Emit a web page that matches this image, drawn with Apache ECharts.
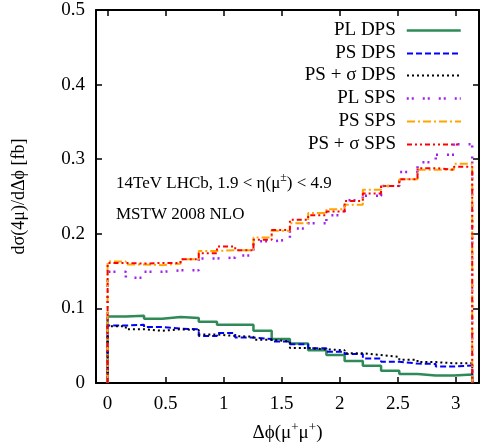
<!DOCTYPE html>
<html>
<head>
<meta charset="utf-8">
<script src="https://cdn.jsdelivr.net/npm/echarts@6/dist/echarts.min.js"></script>
<style>html,body{margin:0;padding:0;background:#fff}#c{width:480px;height:445px}</style>
</head>
<body>
<div id="c"></div>
<script>
// Δϕ bins: 20 bins from 0 to π
var nBins = 20;
var phiMax = Math.PI;
var xTicks = [0, 0.5, 1, 1.5, 2, 2.5, 3];
var yTicks = [0, 0.1, 0.2, 0.3, 0.4, 0.5];

var plDPS      = [0.089,0.090,0.086,0.0885,0.087,0.082,0.078,0.078,0.070,0.059,0.053,0.044,0.0375,0.0295,0.023,0.0165,0.012,0.010,0.010,0.0115];
var psDPS      = [0.077,0.078,0.075,0.073,0.072,0.063,0.067,0.061,0.059,0.0555,0.052,0.0465,0.042,0.039,0.033,0.0285,0.026,0.0255,0.022,0.0235];
var psSigmaDPS = [0.076,0.072,0.070,0.072,0.071,0.065,0.063,0.062,0.058,0.0555,0.047,0.045,0.044,0.040,0.0375,0.035,0.031,0.028,0.0265,0.0265];
var plSPS      = [0.149,0.141,0.149,0.151,0.151,0.167,0.168,0.171,0.190,0.192,0.207,0.214,0.225,0.245,0.251,0.264,0.283,0.296,0.306,0.320];
var psSPS      = [0.163,0.159,0.158,0.160,0.166,0.177,0.178,0.178,0.195,0.204,0.214,0.228,0.233,0.239,0.259,0.264,0.273,0.286,0.286,0.294];
var psSigmaSPS = [0.161,0.160,0.161,0.161,0.166,0.174,0.183,0.178,0.192,0.205,0.219,0.225,0.230,0.244,0.254,0.264,0.273,0.288,0.286,0.290];

var names = ['PL DPS', 'PS DPS', 'PS + σ DPS', 'PL SPS', 'PS SPS', 'PS + σ SPS'];

var FONT = "'Liberation Serif', 'Times New Roman', serif";

function stepPoints(vals) {
  var w = phiMax / nBins;
  var pts = [[0, 0]];
  for (var i = 0; i < vals.length; i++) {
    pts.push([i * w, vals[i]]);
    pts.push([(i + 1) * w, vals[i]]);
  }
  pts.push([phiMax, 0]);
  return pts;
}

var styles = [
  {data: plDPS,      color: '#2e8b57', type: 'solid',            width: 2.5},
  {data: psDPS,      color: '#0000ff', type: [6, 3],             width: 2},
  {data: psSigmaDPS, color: '#000000', type: [2, 3],             width: 2},
  {data: plSPS,      color: '#a020f0', type: [2, 3, 2, 9],       width: 2.5},
  {data: psSPS,      color: '#ffa500', type: [8, 3, 2, 3],       width: 2},
  {data: psSigmaSPS, color: '#ff0000', type: [5, 3, 2, 3, 2, 3], width: 2}
];

var series = styles.map(function (s, i) {
  return {
    name: names[i],
    type: 'line',
    data: stepPoints(s.data),
    showSymbol: false,
    symbol: 'none',
    color: s.color,
    lineStyle: {color: s.color, type: s.type, width: s.width},
    z: 2 + i
  };
});

var rowTops = [21, 44, 66, 89, 112, 135];
var legends = names.map(function (n, i) {
  return {
    data: [n],
    right: 18,
    top: rowTops[i],
    orient: 'horizontal',
    align: 'right',
    itemWidth: 54,
    itemHeight: 14,
    itemGap: 0,
    padding: 0,
    selectedMode: false,
    itemStyle: {opacity: 0},
    lineStyle: {type: 'inherit', width: 'inherit', color: 'inherit'},
    textStyle: {fontFamily: FONT, fontSize: 19, color: '#000', padding: [0, 6, 0, 0]}
  };
});

var axisCommonX = {
  type: 'value',
  min: -0.1,
  max: 3.2,
  splitLine: {show: false},
  axisLine: {show: true, onZero: false, lineStyle: {color: '#000', width: 2}}
};
var axisCommonY = {
  type: 'value',
  min: 0,
  max: 0.5,
  interval: 0.1,
  splitLine: {show: false},
  axisLine: {show: true, onZero: false, lineStyle: {color: '#000', width: 2}}
};

var option = {
  animation: false,
  backgroundColor: '#fff',
  grid: {left: 96, right: 1, top: 10, bottom: 62, containLabel: false, outerBoundsMode: 'none'},
  legend: legends,
  xAxis: [
    Object.assign({}, axisCommonX, {
      position: 'bottom',
      axisTick: {show: true, inside: true, length: 6, customValues: xTicks, lineStyle: {color: '#000', width: 1.5}},
      axisLabel: {show: true, customValues: xTicks, margin: 12, fontFamily: FONT, fontSize: 19, color: '#000',
        formatter: function (v) { return String(v); }},
      name: '{a|Δϕ(μ}{s|+}{a|μ}{s|+}{a|)}',
      nameLocation: 'middle',
      nameGap: 38,
      nameTextStyle: {
        rich: {
          a: {fontFamily: FONT, fontSize: 19, color: '#000', lineHeight: 22, verticalAlign: 'bottom'},
          s: {fontFamily: FONT, fontSize: 13, color: '#000', lineHeight: 22, verticalAlign: 'top'}
        }
      }
    }),
    Object.assign({}, axisCommonX, {
      position: 'top',
      axisTick: {show: true, inside: true, length: 6, customValues: xTicks, lineStyle: {color: '#000', width: 1.5}},
      axisLabel: {show: false}
    })
  ],
  yAxis: [
    Object.assign({}, axisCommonY, {
      position: 'left',
      axisTick: {show: true, inside: true, length: 6, lineStyle: {color: '#000', width: 1.5}},
      axisLabel: {show: true, margin: 11, fontFamily: FONT, fontSize: 19, color: '#000',
        formatter: function (v) { return String(Math.round(v * 10) / 10); }},
      name: 'dσ(4μ)/dΔϕ [fb]',
      nameLocation: 'middle',
      nameRotate: 90,
      nameGap: 68,
      nameTextStyle: {fontFamily: FONT, fontSize: 18, color: '#000'}
    }),
    Object.assign({}, axisCommonY, {
      position: 'right',
      axisTick: {show: true, inside: true, length: 6, lineStyle: {color: '#000', width: 1.5}},
      axisLabel: {show: false}
    })
  ],
  graphic: [
    {
      type: 'text', left: 116, top: 172,
      style: {
        text: '{a|14TeV LHCb, 1.9 < η(μ}{s|±}{a|) < 4.9}',
        rich: {
          a: {fontFamily: FONT, fontSize: 17, fill: '#000', lineHeight: 20, verticalAlign: 'bottom'},
          s: {fontFamily: FONT, fontSize: 12, fill: '#000', lineHeight: 20, verticalAlign: 'top'}
        }
      }
    },
    {
      type: 'text', left: 116, top: 206,
      style: {text: 'MSTW 2008 NLO', fontFamily: FONT, fontSize: 17, fill: '#000'}
    }
  ],
  series: series
};

var chart = echarts.init(document.getElementById('c'), null, {renderer: 'canvas'});
chart.setOption(option);
</script>
</body>
</html>
